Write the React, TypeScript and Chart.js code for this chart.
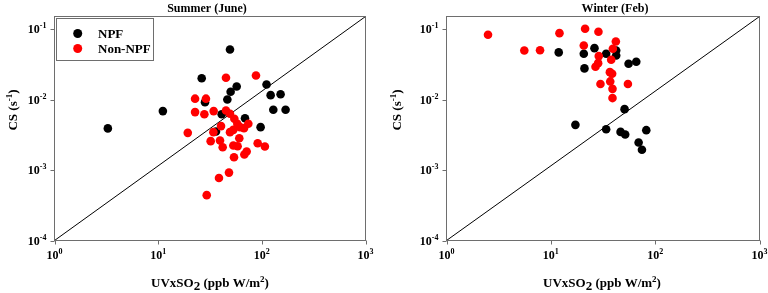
import React, { useEffect, useRef } from "react";
import { Chart, registerables } from "chart.js";

Chart.register(...registerables);

// ---------- data ----------
const SUMMER_NPF_X = [3.27, 11.1, 49.3, 26.3, 57.2, 50.0, 46.5, 28.3, 41.0, 68.8, 36.1, 97.3, 111, 121.6, 151.7, 129, 169.5];
const SUMMER_NPF_Y = [0.0039, 0.00686, 0.0514, 0.0201, 0.0153, 0.0129, 0.01, 0.0092, 0.0062, 0.00544, 0.00352, 0.00406, 0.0164, 0.01156, 0.0119, 0.00716, 0.00716];

const SUMMER_NON_X = [45.1, 87.8, 22.7, 28.9, 22.7, 27.9, 34.3, 45.1, 49.3, 19.3, 34.1, 40.4, 54.3, 58.0, 61.6, 74.1, 67.3, 49.3, 53.1, 32.1, 39.5, 41.9, 60.6, 53.1, 58.4, 91.2, 107, 53.9, 67.8, 71.4, 48.2, 38.6, 29.4];
const SUMMER_NON_Y = [0.0204, 0.022, 0.0103, 0.0103, 0.00664, 0.0062, 0.00686, 0.007, 0.00628, 0.00337, 0.00345, 0.0042, 0.00533, 0.00453, 0.00406, 0.00453, 0.00393, 0.00345, 0.00372, 0.00257, 0.00262, 0.00211, 0.00283, 0.00223, 0.00218, 0.0024, 0.00216, 0.00152, 0.00166, 0.00183, 0.00092, 0.00077, 0.00044];

const WINTER_NPF_X = [11.9, 20.7, 26.2, 33.9, 42.3, 42.3, 21.0, 55.6, 65.9, 50.9, 17.2, 33.9, 46.6, 51.6, 82.2, 69.4, 74.7];
const WINTER_NPF_Y = [0.0467, 0.0447, 0.0537, 0.0447, 0.0497, 0.0422, 0.0277, 0.0322, 0.0344, 0.00731, 0.00438, 0.0038, 0.00348, 0.00319, 0.00368, 0.00246, 0.00194];

const WINTER_NON_X = [2.5, 5.57, 7.88, 12.1, 21.3, 28.6, 20.7, 42.0, 39.3, 28.8, 37.9, 28.4, 26.8, 36.8, 38.7, 29.9, 37.1, 54.8, 39.0, 39.0];
const WINTER_NON_Y = [0.083, 0.0498, 0.05, 0.0877, 0.101, 0.0917, 0.0586, 0.0668, 0.0526, 0.0414, 0.0367, 0.0329, 0.0292, 0.0245, 0.0232, 0.0166, 0.0181, 0.0166, 0.0142, 0.0105];

const DIAG_X = [1, 1000];
const DIAG_Y = [1e-4, 0.151];

const X_TICKS = [1, 10, 100, 1000];
const X_EXP = ["0", "1", "2", "3"];
const Y_TICKS = [1e-4, 1e-3, 1e-2, 1e-1];
const Y_EXP = ["-4", "-3", "-2", "-1"];

const SERIES_NAMES = ["NPF", "Non-NPF"];
const COLORS = ["#000000", "#ff0000"];

const FONT = '"Liberation Serif", "Times New Roman", serif';

type Seg = { t: string; s: number; dy: number };

function drawRich(ctx: CanvasRenderingContext2D, segs: Seg[], x: number, y: number, align: "left" | "center" | "right") {
  let total = 0;
  const widths: number[] = [];
  for (const sg of segs) {
    ctx.font = `bold ${sg.s}px ${FONT}`;
    const w = ctx.measureText(sg.t).width;
    widths.push(w);
    total += w;
  }
  let cx = align === "left" ? x : align === "center" ? x - total / 2 : x - total;
  ctx.textAlign = "left";
  ctx.textBaseline = "alphabetic";
  segs.forEach((sg, i) => {
    ctx.font = `bold ${sg.s}px ${FONT}`;
    ctx.fillText(sg.t, cx, y + sg.dy);
    cx += widths[i];
  });
}

const zip = (xs: number[], ys: number[]) => xs.map((x, i) => ({ x, y: ys[i] }));

type Panel = {
  title: string;
  titleX: number;
  yTitleX: number;
  xTitleX: number;
  legend: boolean;
  yWidth: number;
  padRight: number;
  npfX: number[];
  npfY: number[];
  nonX: number[];
  nonY: number[];
};

function makeChart(canvas: HTMLCanvasElement, p: Panel) {
  const overlay = {
    id: "overlay",
    afterDraw(chart: any) {
      const ctx: CanvasRenderingContext2D = chart.ctx;
      const a = chart.chartArea;
      const xs = chart.scales.x;
      const ys = chart.scales.y;
      ctx.save();
      // frame
      ctx.strokeStyle = "#6e6e6e";
      ctx.lineWidth = 1;
      ctx.strokeRect(a.left, a.top, a.right - a.left, a.bottom - a.top);
      // tick marks
      ctx.beginPath();
      X_TICKS.forEach((v) => {
        const px = Math.round(xs.getPixelForValue(v)) + 0.5;
        ctx.moveTo(px, a.bottom);
        ctx.lineTo(px, a.bottom + 4);
      });
      Y_TICKS.forEach((v) => {
        const py = Math.round(ys.getPixelForValue(v)) + 0.5;
        ctx.moveTo(a.left - 4, py);
        ctx.lineTo(a.left, py);
      });
      ctx.stroke();
      // tick labels
      ctx.fillStyle = "#000";
      X_TICKS.forEach((v, i) => {
        const px = xs.getPixelForValue(v);
        drawRich(ctx, [{ t: "10", s: 12, dy: 0 }, { t: X_EXP[i], s: 8, dy: -5 }], px, 259, "center");
      });
      Y_TICKS.forEach((v, i) => {
        const py = ys.getPixelForValue(v);
        drawRich(ctx, [{ t: "10", s: 12, dy: 0 }, { t: Y_EXP[i], s: 8, dy: -5 }], a.left - 8, py + 4, "right");
      });
      // title
      drawRich(ctx, [{ t: p.title, s: 12, dy: 0 }], p.titleX, 12, "center");
      // x title
      drawRich(
        ctx,
        [
          { t: "UVxSO", s: 13, dy: 0 },
          { t: "2", s: 13, dy: 3 },
          { t: " (ppb W/m", s: 13, dy: 0 },
          { t: "2", s: 9, dy: -5 },
          { t: ")", s: 13, dy: 0 },
        ],
        p.xTitleX,
        287,
        "center"
      );
      // y title
      ctx.save();
      ctx.translate(p.yTitleX, 110);
      ctx.rotate(-Math.PI / 2);
      drawRich(
        ctx,
        [
          { t: "CS (s", s: 13, dy: 0 },
          { t: "-1", s: 9, dy: -5 },
          { t: ")", s: 13, dy: 0 },
        ],
        0,
        4,
        "center"
      );
      ctx.restore();
      // legend
      if (p.legend) {
        ctx.strokeStyle = "#6e6e6e";
        ctx.strokeRect(56.5, 18.5, 97, 42);
        const rows = [33.5, 48.5];
        rows.forEach((ry, i) => {
          ctx.fillStyle = COLORS[i];
          ctx.beginPath();
          ctx.arc(77.7, ry, 4.5, 0, Math.PI * 2);
          ctx.fill();
          ctx.fillStyle = "#000";
          drawRich(ctx, [{ t: SERIES_NAMES[i], s: 13, dy: 0 }], 98, ry + 4.5, "left");
        });
      }
      ctx.restore();
    },
  };

  return new Chart(canvas, {
    type: "scatter",
    data: {
      datasets: [
        {
          label: SERIES_NAMES[1],
          data: zip(p.nonX, p.nonY),
          backgroundColor: COLORS[1],
          borderWidth: 0,
          pointRadius: 4.3,
          order: 0,
        },
        {
          label: SERIES_NAMES[0],
          data: zip(p.npfX, p.npfY),
          backgroundColor: COLORS[0],
          borderWidth: 0,
          pointRadius: 4.3,
          order: 1,
        },
        {
          label: "1:1",
          data: zip(DIAG_X, DIAG_Y),
          showLine: true,
          borderColor: "#000",
          borderWidth: 1,
          pointRadius: 0,
          order: 2,
        },
      ],
    },
    options: {
      responsive: false,
      animation: false,
      events: [],
      layout: { padding: { left: 0, right: p.padRight, top: 16.5, bottom: 0 } },
      plugins: {
        legend: { display: false },
        tooltip: { enabled: false },
        title: { display: false },
      },
      scales: {
        x: {
          type: "logarithmic",
          min: 1,
          max: 1000,
          ticks: { display: false },
          grid: { display: false },
          border: { display: false },
          afterFit: (s: any) => {
            s.height = 52.5;
          },
        },
        y: {
          type: "logarithmic",
          min: DIAG_Y[0],
          max: DIAG_Y[1],
          ticks: { display: false },
          grid: { display: false },
          border: { display: false },
          afterFit: (s: any) => {
            s.width = p.yWidth;
          },
        },
      },
    },
    plugins: [overlay],
  } as any);
}

const PANELS: Panel[] = [
  {
    title: "Summer (June)",
    titleX: 207,
    yTitleX: 13,
    xTitleX: 210,
    legend: true,
    yWidth: 54.5,
    padRight: 18.5,
    npfX: SUMMER_NPF_X,
    npfY: SUMMER_NPF_Y,
    nonX: SUMMER_NON_X,
    nonY: SUMMER_NON_Y,
  },
  {
    title: "Winter (Feb)",
    titleX: 231,
    yTitleX: 13,
    xTitleX: 218,
    legend: false,
    yWidth: 62.5,
    padRight: 8.5,
    npfX: WINTER_NPF_X,
    npfY: WINTER_NPF_Y,
    nonX: WINTER_NON_X,
    nonY: WINTER_NON_Y,
  },
];

function PanelChart({ panel }: { panel: Panel }) {
  const ref = useRef<HTMLCanvasElement>(null);
  useEffect(() => {
    if (!ref.current) return;
    const c = makeChart(ref.current, panel);
    return () => c.destroy();
  }, [panel]);
  return <canvas ref={ref} width={384} height={293} style={{ display: "block", width: 384, height: 293 }} />;
}

export default function App() {
  return (
    <div style={{ position: "absolute", left: 0, top: 0, width: 768, height: 293, display: "flex", background: "#fff" }}>
      {PANELS.map((p, i) => (
        <PanelChart key={i} panel={p} />
      ))}
    </div>
  );
}
